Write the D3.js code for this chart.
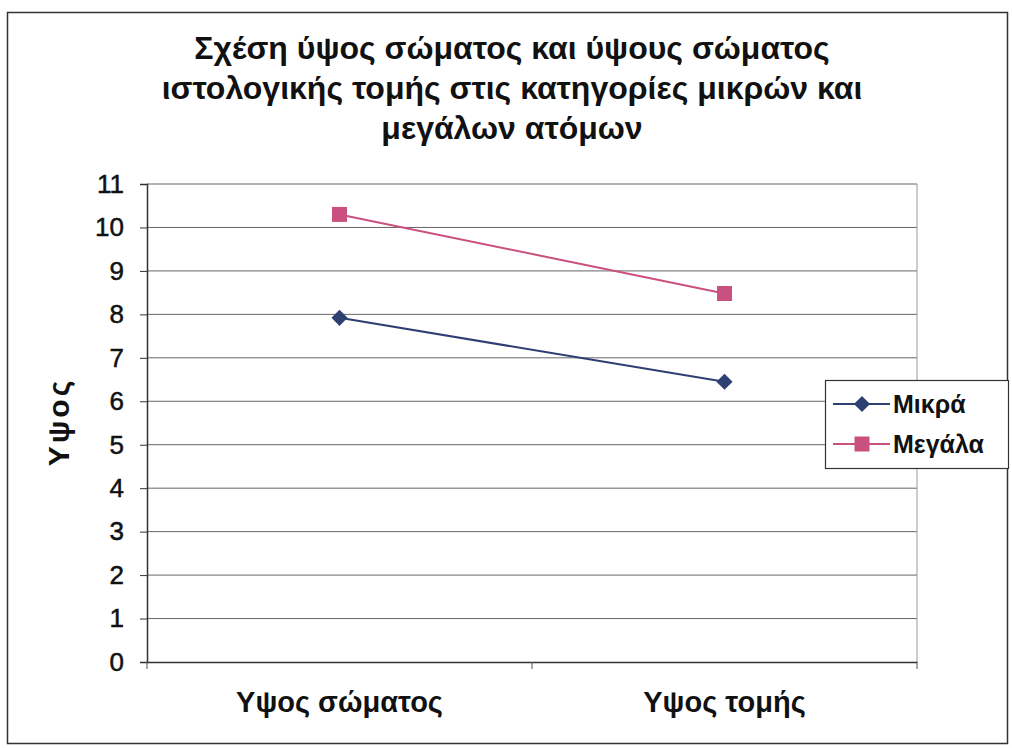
<!DOCTYPE html>
<html><head><meta charset="utf-8">
<script src="https://cdn.jsdelivr.net/npm/d3@7"></script>
<style>body{margin:0;background:#fff;} svg{display:block;font-family:Arial,"Liberation Sans",sans-serif;}</style>
</head><body><svg id="c" width="1012" height="748"></svg>
<script>
const titleLines = ["Σχέση ύψος σώματος και ύψους σώματος","ιστολογικής τομής στις κατηγορίες μικρών και","μεγάλων ατόμων"];
const categories = ["Υψος σώματος","Υψος τομής"];
const seriesNames = ["Μικρά","Μεγάλα"];
const mikra = [7.92, 6.45];
const megala = [10.3, 8.48];
const yTicks = [0,1,2,3,4,5,6,7,8,9,10,11];
const yTitle = "Υψος";

const colors = ["#2e3f72","#c9507f"];
const svg = d3.select("#c");
svg.append("rect").attr("x",7.5).attr("y",12.5).attr("width",1000).attr("height",731).attr("fill","none").attr("stroke","#333").attr("stroke-width",1.5);

const m = {l:147,r:917,t:184,b:662};
const x = d3.scaleBand().domain(categories).range([m.l,m.r]);
const y = d3.scaleLinear().domain([0,11]).range([m.b,m.t]);

// title
svg.append("g").selectAll("text").data(titleLines).join("text")
 .attr("x",512).attr("y",(d,i)=>59+i*40).attr("text-anchor","middle")
 .attr("font-size",32).attr("font-weight","bold").attr("fill","#111").text(d=>d);

// gridlines
svg.append("g").selectAll("line").data(yTicks.slice(1)).join("line")
 .attr("x1",m.l).attr("x2",m.r).attr("y1",d=>y(d)).attr("y2",d=>y(d))
 .attr("stroke","#666").attr("stroke-width",1);
svg.append("line").attr("x1",m.r).attr("x2",m.r).attr("y1",m.t).attr("y2",m.b).attr("stroke","#999");

// y axis
const ya = svg.append("g").attr("transform",`translate(${m.l},0)`)
 .call(d3.axisLeft(y).tickValues(yTicks).tickSize(7).tickPadding(16).tickFormat(d3.format("d")));
ya.select(".domain").attr("stroke","#333").attr("stroke-width",1.5);
ya.selectAll(".tick line").attr("stroke","#333");
ya.selectAll("text").attr("font-size",26).attr("fill","#111").attr("stroke","#111").attr("stroke-width",0.5)
  .attr("font-family","Arial,'Liberation Sans',sans-serif");

// x axis
const xa = svg.append("g").attr("transform",`translate(0,${m.b})`)
 .call(d3.axisBottom(x).tickSize(0).tickPadding(29));
xa.select(".domain").attr("stroke","#333").attr("stroke-width",1.5);
xa.selectAll("text").attr("font-size",29).attr("font-weight","bold").attr("fill","#111").attr("font-family","Arial,'Liberation Sans',sans-serif");
// category separator ticks
svg.append("g").selectAll("line").data([m.l,(m.l+m.r)/2,m.r]).join("line")
 .attr("x1",d=>d).attr("x2",d=>d).attr("y1",m.b).attr("y2",m.b+7).attr("stroke","#555");

// y title
svg.append("text").attr("transform",`translate(69,422) rotate(-90)`).attr("text-anchor","middle")
 .attr("font-size",30).attr("font-weight","bold").attr("letter-spacing",3).attr("fill","#111").text(yTitle);

const cx = d => x(d)+x.bandwidth()/2;
const line = d3.line().x(d=>cx(d.c)).y(d=>y(d.v));
const data = [mikra, megala].map(arr => arr.map((v,i)=>({c:categories[i],v})));

data.forEach((s,i)=>{
  svg.append("path").datum(s).attr("d",line).attr("fill","none").attr("stroke",colors[i]).attr("stroke-width",2);
});
const diamond = d3.symbol().type(d3.symbolSquare).size(130);
const square = d3.symbol().type(d3.symbolSquare).size(225);
svg.append("g").selectAll("path").data(data[0]).join("path")
 .attr("transform",d=>`translate(${cx(d.c)},${y(d.v)}) rotate(45)`).attr("d",diamond).attr("fill",colors[0]);
svg.append("g").selectAll("path").data(data[1]).join("path")
 .attr("transform",d=>`translate(${cx(d.c)},${y(d.v)})`).attr("d",square).attr("fill",colors[1]);

// legend
const lg = svg.append("g").attr("transform","translate(825,380)");
lg.append("rect").attr("x",0.5).attr("y",0.5).attr("width",183).attr("height",88).attr("fill","#fff").attr("stroke","#333").attr("stroke-width",1.2);
seriesNames.forEach((n,i)=>{
  const yy = 24+i*40;
  lg.append("line").attr("x1",8).attr("x2",65).attr("y1",yy).attr("y2",yy).attr("stroke",colors[i]).attr("stroke-width",2);
  lg.append("path").attr("transform",`translate(37,${yy})`+(i===0?" rotate(45)":"")).attr("d",i===0?diamond:square).attr("fill",colors[i]);
  lg.append("text").attr("x",68).attr("y",yy+9).attr("font-size",25).attr("font-weight","bold").attr("fill","#111").text(n);
});
</script></body></html>
